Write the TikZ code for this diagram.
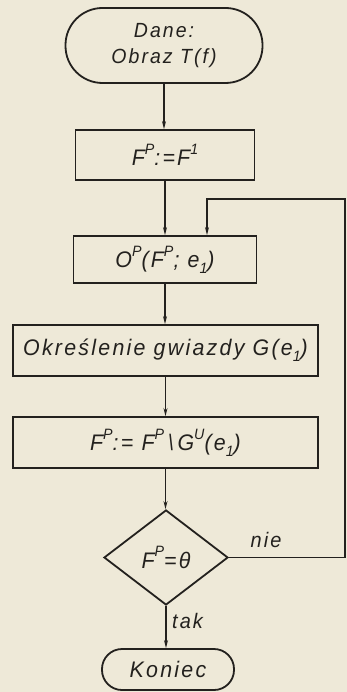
\documentclass[tikz,border=0pt]{standalone}
\usepackage{fontspec}
\setmainfont{Liberation Sans}[LetterSpace=10, FakeStretch=0.95]
\usetikzlibrary{arrows.meta,shapes.geometric}
\definecolor{paper}{RGB}{238,233,216}
\definecolor{ink}{RGB}{35,33,30}
\newcommand\supx[1]{\raisebox{0.5em}{\fontsize{15}{15}\selectfont #1}}
\newcommand\subx[1]{\raisebox{-0.25em}{\fontsize{15}{15}\selectfont #1}}
\begin{document}
\begin{tikzpicture}[x=1pt,y=-1pt,
  every node/.style={font=\fontsize{22.5}{24}\selectfont\itshape, text=ink},
  term/.style={draw=ink, line width=1.8pt, rounded corners=#1, inner sep=0pt},
  procbox/.style={draw=ink, line width=1.8pt, rectangle, inner sep=0pt},
  decis/.style={draw=ink, line width=1.8pt, diamond, inner sep=0pt, aspect=1.3},
  flow/.style={draw=ink, line width=1.6pt, -{Stealth[length=8pt,width=4pt]}},
  lbl/.style={font=\fontsize{21}{22}\selectfont\itshape}]
\fill[paper] (0,0) rectangle (347,692);
\useasboundingbox (0,0) rectangle (347,692);
\node[term=37pt, minimum width=197pt, minimum height=75pt, align=center, font=\fontsize{20.5}{26}\selectfont\itshape] (start) at (164,45.5) {Dane:\\Obraz T(f)};
\node[procbox, minimum width=179pt, minimum height=50pt] (b1) at (165,155) {F\supx{P}:=F\supx{1}};
\node[procbox, minimum width=183pt, minimum height=47pt] (b2) at (165,259.5) {O\supx{P}(F\supx{P}; e\subx{1})};
\node[procbox, minimum width=305pt, minimum height=51pt] (b3) at (165.5,350.5) {Określenie gwiazdy G(e\subx{1})};
\node[procbox, minimum width=305pt, minimum height=51pt] (b4) at (165.5,442.5) {F\supx{P}:= F\supx{P}\,\textbackslash\,G\supx{U}(e\subx{1})};
\node[decis, minimum width=124pt, minimum height=95pt] (d) at (166,557.5) {};
\node at (d.center) {F\supx{P}=θ};
\node[term=20pt, minimum width=132pt, minimum height=41pt] (end) at (168,669.5) {Koniec};
\coordinate (r1) at (345,557.5);
\coordinate (r2) at (345,199);
\coordinate (r3) at (207,199);
\draw[flow] (start) -- (start.south |- b1.north);
\draw[flow] (b1.south) -- (b1.south |- b2.north);
\draw[flow] (b2) -- (b2.south |- b3.north);
\draw[flow] (b3) -- (b3.south |- b4.north);
\draw[flow] (b4.south) -- (b4.south |- d.north);
\draw[flow] (d.south) -- (d.south |- end.north) node[pos=0.35, right=2pt, lbl] {tak};
\draw[flow] (d.east) -- (r1) -- (r2) -- (r3) -- (r3 |- b2.north);
\node[lbl] at (266,540) {nie};
\end{tikzpicture}
\end{document}
